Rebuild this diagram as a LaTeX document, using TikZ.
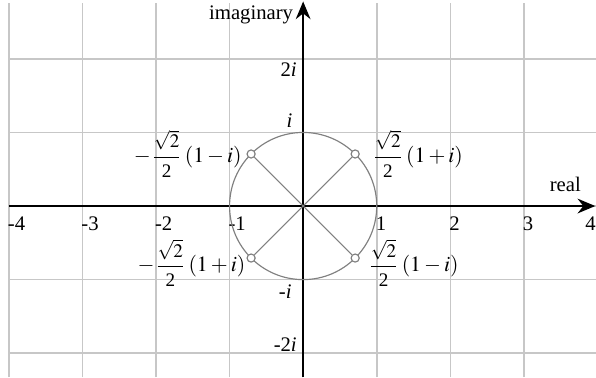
\documentclass[tikz,border=0pt]{standalone}
\usepackage{mathptmx}
\usepackage{fontspec}
\setmainfont{Liberation Serif}
\usepackage{tikz}
\usetikzlibrary{
    positioning,
    arrows.meta
}

\newcommand{\fracsmall}[1]{\hbox{\fontsize{7.4}{8}\selectfont#1}}
\newcommand{\halfroot}{{\displaystyle\frac{\fracsmall{$\sqrt{2}$}}{\fracsmall{2}}}}

\begin{document}
\begin{tikzpicture}[
    font=\fontsize{8}{10}\selectfont,
    gridline/.style={draw=black!22, line width=0.6pt},
    axis/.style={-{Stealth[length=0.24cm, width=0.2cm]}, line width=0.8pt},
    unitline/.style={draw=black!50, line width=0.45pt},
    dot/.style={
        circle,
        draw=black!50,
        fill=white,
        line width=0.45pt,
        inner sep=0pt,
        minimum size=0.11cm
    },
    tick/.style={inner sep=0pt},
    ptlabel/.style={inner sep=0pt, font=\fontsize{8.4}{10}\selectfont}
]
\useasboundingbox (-4.12,-2.33) rectangle (3.98,2.80);

% grid
\draw[gridline] (-4,-2.33) grid (3.98,2.76);

% axes
\coordinate (O) at (0,0);
\coordinate (xmin) at (-4,0);
\coordinate (xmax) at (3.97,0);
\coordinate (ymin) at (0,-2.33);
\coordinate (ymax) at (0,2.78);
\draw[axis] (xmin) -- (xmax);
\draw[axis] (ymin) -- (ymax);

\node[tick, anchor=base east] (realname) at (3.78,0.2) {real};
\node[tick, anchor=base east] (imagname) at (-0.13,2.53) {imaginary};

% tick labels
\foreach \x [count=\k] in {-4,-3,-2,-1,1,2,3}
    \node[tick, anchor=north west] (rx\k) at (\x-0.02,-0.14) {\x};
\node[tick, anchor=north west] (rx8) at (3.83,-0.14) {4};

\node[tick, anchor=north east] (iy1) at (-0.08,1.95) {2\textit{i}};
\node[tick, anchor=south east] (iy2) at (-0.14,1.06) {\textit{i}};
\node[tick, anchor=north east] (iy3) at (-0.15,-1.07) {-\textit{i}};
\node[tick, anchor=south east] (iy4) at (-0.08,-1.98) {-2\textit{i}};

% unit circle and roots
\draw[unitline] (O) circle (1);
\foreach \a/\n in {45/ne, 135/nw, 225/sw, 315/se} {
    \node[dot] (\n) at (\a:1) {};
    \draw[unitline] (O) -- (\n);
}

\node[ptlabel, right=0.16cm of ne] (lne) {$\halfroot\,(1+i)$};
\node[ptlabel, left=0.06cm of nw] (lnw) {$-\halfroot\,(1-i)$};
\node[ptlabel, left=0.01cm of sw, yshift=-0.07cm] (lsw) {$-\halfroot\,(1+i)$};
\node[ptlabel, right=0.1cm of se, yshift=-0.07cm] (lse) {$\halfroot\,(1-i)$};

\end{tikzpicture}
\end{document}
